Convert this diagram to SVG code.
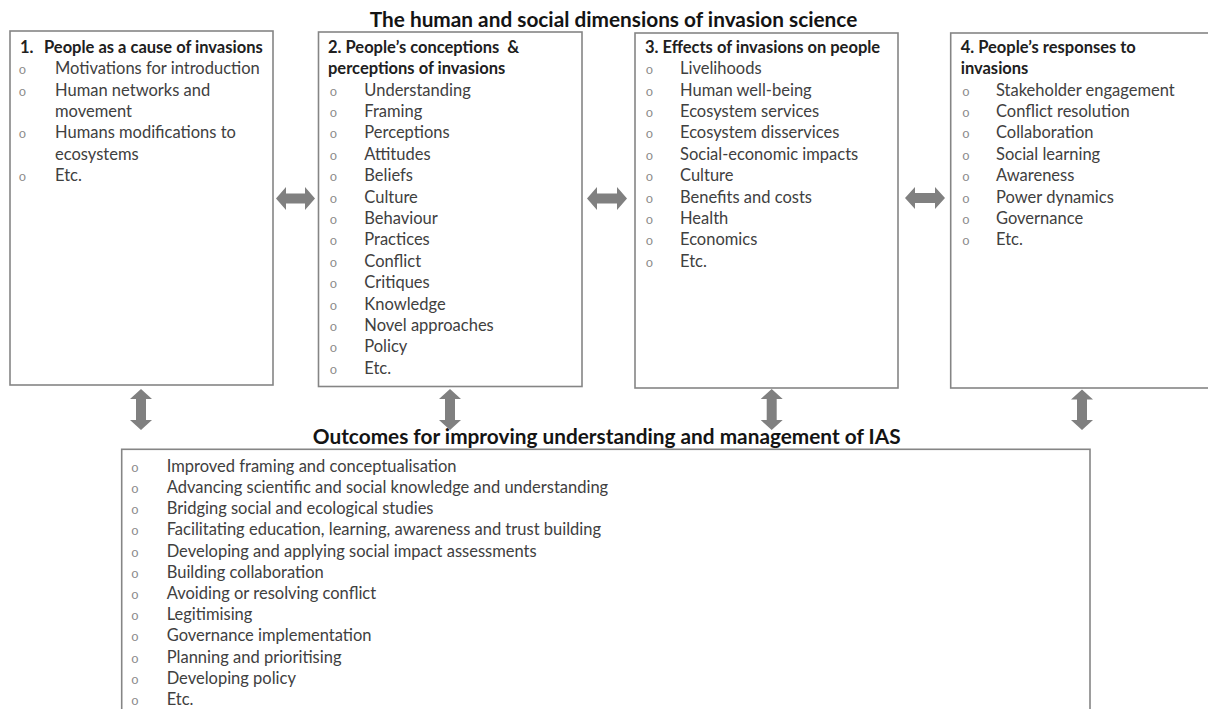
<svg xmlns="http://www.w3.org/2000/svg" width="1208" height="709" viewBox="0 0 1208 709">
<style>
.bg{fill:#ffffff}
.box{fill:#ffffff;stroke:#858585;stroke-width:1.6}
.ttl{font-family:Lato,"Liberation Sans",sans-serif;font-weight:bold;font-size:20.8px;fill:#141414;text-anchor:middle}
.hd{font-family:Lato,"Liberation Sans",sans-serif;font-weight:bold;font-size:16.5px;fill:#202020}
.it{font-family:Lato,"Liberation Sans",sans-serif;font-size:16.5px;fill:#404040}
.bl{font-family:"Liberation Mono",monospace;font-size:13px;fill:#8a8a8a;text-anchor:middle}
.arr{fill:#808080}
</style>
<rect class="bg" x="0" y="0" width="1208" height="709"/>

<g id="title-top">
<text class="ttl" x="613.5" y="27">The human and social dimensions of invasion science</text>
</g>

<g id="node1">
<rect class="box" x="10" y="31" width="263" height="354"/>
<text class="hd" x="20" y="52.7">1.</text>
<text class="hd" x="44" y="52.7">People as a cause of invasions</text>
<text class="bl" x="22.3" y="74.1">o</text><text class="it" x="55" y="74.1">Motivations for introduction</text>
<text class="bl" x="22.3" y="95.5">o</text><text class="it" x="55" y="95.5">Human networks and</text>
<text class="it" x="55" y="116.9">movement</text>
<text class="bl" x="22.3" y="138.3">o</text><text class="it" x="55" y="138.3">Humans modifications to</text>
<text class="it" x="55" y="159.7">ecosystems</text>
<text class="bl" x="22.3" y="181.1">o</text><text class="it" x="55" y="181.1">Etc.</text>
</g>

<g id="node2">
<rect class="box" x="318.5" y="32" width="263.5" height="354.5"/>
<text class="hd" x="328" y="52.7" xml:space="preserve">2. People’s conceptions  &amp;</text>
<text class="hd" x="328" y="74.1">perceptions of invasions</text>
<text class="bl" x="333.3" y="95.5">o</text><text class="it" x="364.3" y="95.5">Understanding</text>
<text class="bl" x="333.3" y="116.9">o</text><text class="it" x="364.3" y="116.9">Framing</text>
<text class="bl" x="333.3" y="138.3">o</text><text class="it" x="364.3" y="138.3">Perceptions</text>
<text class="bl" x="333.3" y="159.7">o</text><text class="it" x="364.3" y="159.7">Attitudes</text>
<text class="bl" x="333.3" y="181.1">o</text><text class="it" x="364.3" y="181.1">Beliefs</text>
<text class="bl" x="333.3" y="202.5">o</text><text class="it" x="364.3" y="202.5">Culture</text>
<text class="bl" x="333.3" y="223.9">o</text><text class="it" x="364.3" y="223.9">Behaviour</text>
<text class="bl" x="333.3" y="245.3">o</text><text class="it" x="364.3" y="245.3">Practices</text>
<text class="bl" x="333.3" y="266.7">o</text><text class="it" x="364.3" y="266.7">Conflict</text>
<text class="bl" x="333.3" y="288.1">o</text><text class="it" x="364.3" y="288.1">Critiques</text>
<text class="bl" x="333.3" y="309.5">o</text><text class="it" x="364.3" y="309.5">Knowledge</text>
<text class="bl" x="333.3" y="330.9">o</text><text class="it" x="364.3" y="330.9">Novel approaches</text>
<text class="bl" x="333.3" y="352.3">o</text><text class="it" x="364.3" y="352.3">Policy</text>
<text class="bl" x="333.3" y="373.7">o</text><text class="it" x="364.3" y="373.7">Etc.</text>
</g>

<g id="node3">
<rect class="box" x="635" y="33" width="263" height="355"/>
<text class="hd" x="645" y="52.7">3. Effects of invasions on people</text>
<text class="bl" x="649.3" y="74.1">o</text><text class="it" x="680" y="74.1">Livelihoods</text>
<text class="bl" x="649.3" y="95.5">o</text><text class="it" x="680" y="95.5">Human well-being</text>
<text class="bl" x="649.3" y="116.9">o</text><text class="it" x="680" y="116.9">Ecosystem services</text>
<text class="bl" x="649.3" y="138.3">o</text><text class="it" x="680" y="138.3">Ecosystem disservices</text>
<text class="bl" x="649.3" y="159.7">o</text><text class="it" x="680" y="159.7">Social-economic impacts</text>
<text class="bl" x="649.3" y="181.1">o</text><text class="it" x="680" y="181.1">Culture</text>
<text class="bl" x="649.3" y="202.5">o</text><text class="it" x="680" y="202.5">Benefits and costs</text>
<text class="bl" x="649.3" y="223.9">o</text><text class="it" x="680" y="223.9">Health</text>
<text class="bl" x="649.3" y="245.3">o</text><text class="it" x="680" y="245.3">Economics</text>
<text class="bl" x="649.3" y="266.7">o</text><text class="it" x="680" y="266.7">Etc.</text>
</g>

<g id="node4">
<rect class="box" x="950.7" y="33" width="270" height="355"/>
<text class="hd" x="960.7" y="52.7">4. People’s responses to</text>
<text class="hd" x="960.7" y="74.1">invasions</text>
<text class="bl" x="966" y="95.5">o</text><text class="it" x="996" y="95.5">Stakeholder engagement</text>
<text class="bl" x="966" y="116.9">o</text><text class="it" x="996" y="116.9">Conflict resolution</text>
<text class="bl" x="966" y="138.3">o</text><text class="it" x="996" y="138.3">Collaboration</text>
<text class="bl" x="966" y="159.7">o</text><text class="it" x="996" y="159.7">Social learning</text>
<text class="bl" x="966" y="181.1">o</text><text class="it" x="996" y="181.1">Awareness</text>
<text class="bl" x="966" y="202.5">o</text><text class="it" x="996" y="202.5">Power dynamics</text>
<text class="bl" x="966" y="223.9">o</text><text class="it" x="996" y="223.9">Governance</text>
<text class="bl" x="966" y="245.3">o</text><text class="it" x="996" y="245.3">Etc.</text>
</g>

<g id="title-bottom">
<text class="ttl" x="606.7" y="444">Outcomes for improving understanding and management of IAS</text>
</g>

<g id="node5">
<rect class="box" x="121.7" y="449.3" width="968.3" height="280"/>
<text class="bl" x="135" y="471.7">o</text><text class="it" x="166.7" y="471.7">Improved framing and conceptualisation</text>
<text class="bl" x="135" y="492.9">o</text><text class="it" x="166.7" y="492.9">Advancing scientific and social knowledge and understanding</text>
<text class="bl" x="135" y="514.1">o</text><text class="it" x="166.7" y="514.1">Bridging social and ecological studies</text>
<text class="bl" x="135" y="535.3">o</text><text class="it" x="166.7" y="535.3">Facilitating education, learning, awareness and trust building</text>
<text class="bl" x="135" y="556.5">o</text><text class="it" x="166.7" y="556.5">Developing and applying social impact assessments</text>
<text class="bl" x="135" y="577.7">o</text><text class="it" x="166.7" y="577.7">Building collaboration</text>
<text class="bl" x="135" y="598.9">o</text><text class="it" x="166.7" y="598.9">Avoiding or resolving conflict</text>
<text class="bl" x="135" y="620.1">o</text><text class="it" x="166.7" y="620.1">Legitimising</text>
<text class="bl" x="135" y="641.3">o</text><text class="it" x="166.7" y="641.3">Governance implementation</text>
<text class="bl" x="135" y="662.5">o</text><text class="it" x="166.7" y="662.5">Planning and prioritising</text>
<text class="bl" x="135" y="683.7">o</text><text class="it" x="166.7" y="683.7">Developing policy</text>
<text class="bl" x="135" y="704.9">o</text><text class="it" x="166.7" y="704.9">Etc.</text>
</g>

<g id="connectors">
<path class="arr" d="M276,198.5 L286,187 L286,193.5 L305,193.5 L305,187 L315,198.5 L305,210 L305,203.5 L286,203.5 L286,210 Z"/>
<path class="arr" d="M587,198.5 L597,187 L597,193.5 L617,193.5 L617,187 L627,198.5 L617,210 L617,203.5 L597,203.5 L597,210 Z"/>
<path class="arr" d="M905,198 L915,187 L915,193 L935,193 L935,187 L945,198 L935,209 L935,203 L915,203 L915,209 Z"/>
<path class="arr" d="M141,389 L152,399 L146,399 L146,420 L152,420 L141,430 L130,420 L136,420 L136,399 L130,399 Z"/>
<path class="arr" d="M450,389 L461,399 L455,399 L455,420 L461,420 L450,430 L439,420 L445,420 L445,399 L439,399 Z"/>
<path class="arr" d="M771.7,389 L782.7,399 L776.7,399 L776.7,420 L782.7,420 L771.7,430 L760.7,420 L766.7,420 L766.7,399 L760.7,399 Z"/>
<path class="arr" d="M1082,389.5 L1093,399.5 L1087,399.5 L1087,420 L1093,420 L1082,430 L1071,420 L1077,420 L1077,399.5 L1071,399.5 Z"/>
</g>
</svg>
